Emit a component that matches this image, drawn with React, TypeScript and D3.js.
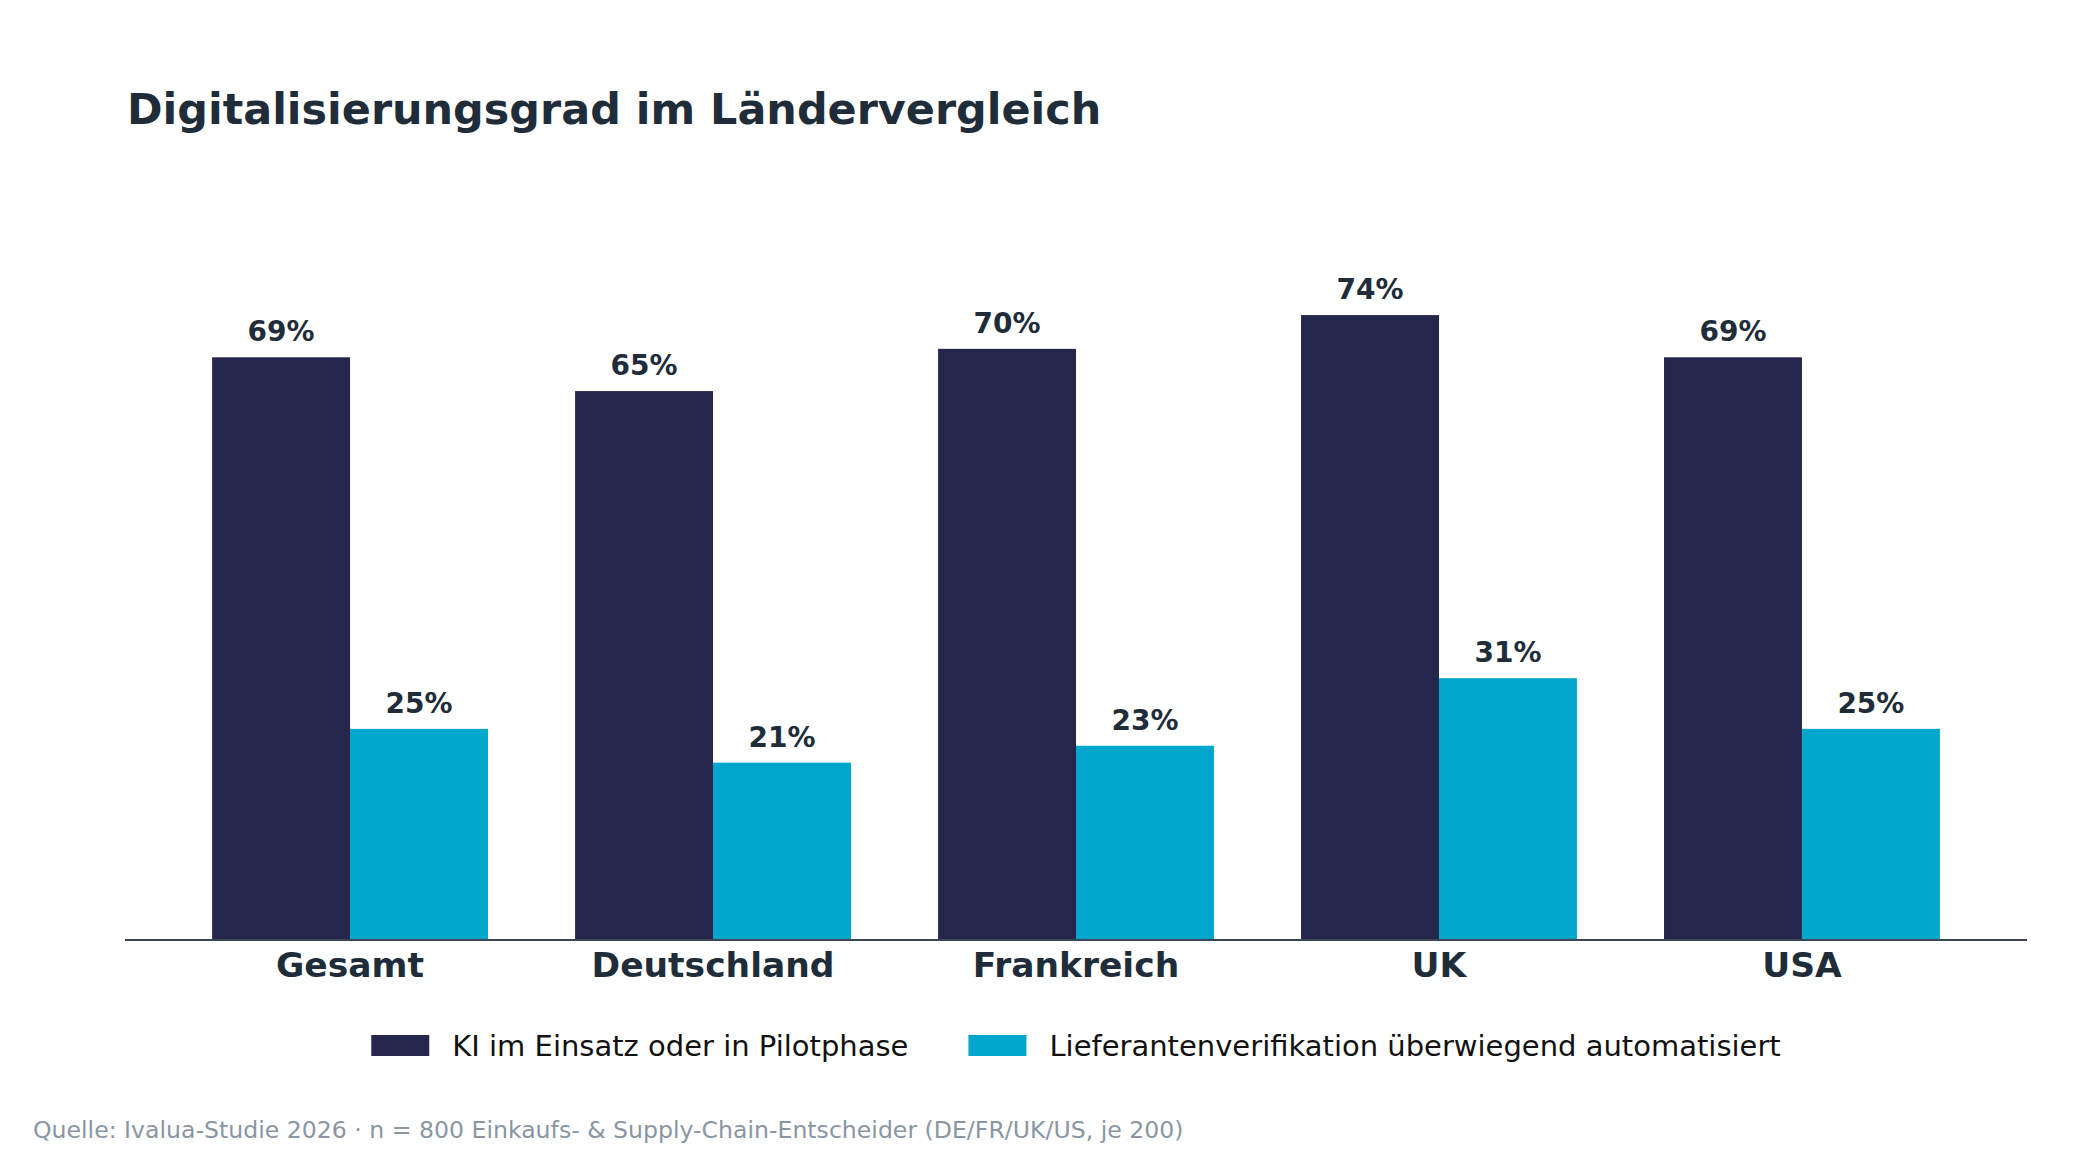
import * as d3 from "d3";
import { useEffect, useRef } from "react";

const categories = ["Gesamt", "Deutschland", "Frankreich", "UK", "USA"];
const kiValues = [69, 65, 70, 74, 69];
const lieferantenValues = [25, 21, 23, 31, 25];
const seriesNames = [
  "KI im Einsatz oder in Pilotphase",
  "Lieferantenverifikation überwiegend automatisiert",
];

const TITLE = "Digitalisierungsgrad im Ländervergleich";
const SOURCE =
  "Quelle: Ivalua-Studie 2026 · n = 800 Einkaufs- & Supply-Chain-Entscheider (DE/FR/UK/US, je 200)";

export default function App({ width = 2100, height = 1160 }) {
  const ref = useRef<SVGSVGElement | null>(null);

  useEffect(() => {
    document.body.style.margin = "0";
    const svg = d3.select(ref.current);
    svg.selectAll("*").remove();
    svg.attr("width", width).attr("height", height);

    const font = "'DejaVu Sans', sans-serif";
    const textColor = "#1f2d3a";
    const colors = ["#24264b", "#00a6cb"];

    svg
      .append("rect")
      .attr("width", width)
      .attr("height", height)
      .attr("fill", "#ffffff");

    // ===== Scales =====
    const left = 125;
    const right = 2027;
    const baseline = 940;
    const barW = 0.38;

    const x = d3.scaleLinear().domain([-0.62, 4.62]).range([left, right]);
    const y = d3
      .scaleLinear()
      .domain([0, 85])
      .range([baseline, baseline - 85 * 8.445]);

    // ===== Title =====
    svg
      .append("text")
      .attr("x", 127)
      .attr("y", 124)
      .attr("font-family", font)
      .attr("font-weight", "bold")
      .attr("font-size", 42.9)
      .attr("fill", textColor)
      .text(TITLE);

    // ===== Bars =====
    const series = [kiValues, lieferantenValues];
    series.forEach((vals, s) => {
      const offset = s === 0 ? -barW : 0;
      const g = svg.append("g");
      g.selectAll("rect")
        .data(vals)
        .enter()
        .append("rect")
        .attr("x", (_, i) => x(i + offset))
        .attr("y", (d) => y(d))
        .attr("width", x(barW) - x(0))
        .attr("height", (d) => baseline - y(d))
        .attr("fill", colors[s]);

      g.selectAll("text")
        .data(vals)
        .enter()
        .append("text")
        .attr("x", (_, i) => x(i + offset + barW / 2))
        .attr("y", (d) => y(d) - 16)
        .attr("text-anchor", "middle")
        .attr("font-family", font)
        .attr("font-weight", "bold")
        .attr("font-size", 28)
        .attr("fill", textColor)
        .text((d) => `${d}%`);
    });

    // ===== Axis =====
    svg
      .append("line")
      .attr("x1", left)
      .attr("x2", right)
      .attr("y1", baseline)
      .attr("y2", baseline)
      .attr("stroke", "#3a4654")
      .attr("stroke-width", 2);

    svg
      .append("g")
      .selectAll("text")
      .data(categories)
      .enter()
      .append("text")
      .attr("x", (_, i) => x(i))
      .attr("y", 977)
      .attr("text-anchor", "middle")
      .attr("font-family", font)
      .attr("font-weight", "bold")
      .attr("font-size", 34.5)
      .attr("fill", textColor)
      .text((d) => d);

    // ===== Legend =====
    const legend = svg.append("g");
    const patchW = 58;
    const patchH = 21;
    const patchGap = 23;
    const itemGap = 60;
    const items = seriesNames.map((name, i) => {
      const item = legend.append("g");
      item
        .append("rect")
        .attr("width", patchW)
        .attr("height", patchH)
        .attr("y", 1035)
        .attr("fill", colors[i]);
      const t = item
        .append("text")
        .attr("x", patchW + patchGap)
        .attr("y", 1056)
        .attr("font-family", font)
        .attr("font-size", 29)
        .attr("fill", "#111111")
        .text(name);
      const w = (t.node() as SVGTextElement).getComputedTextLength();
      return { item, w: patchW + patchGap + w };
    });
    const total = d3.sum(items, (d) => d.w) + itemGap * (items.length - 1);
    let cx = (left + right) / 2 - total / 2;
    items.forEach((d) => {
      d.item.attr("transform", `translate(${cx},0)`);
      cx += d.w + itemGap;
    });

    // ===== Source =====
    svg
      .append("text")
      .attr("x", 33)
      .attr("y", 1138)
      .attr("font-family", font)
      .attr("font-size", 23.6)
      .attr("fill", "#8a96a3")
      .text(SOURCE);
  }, [width, height]);

  return (
    <svg ref={ref} style={{ display: "block" }}>
      <title>Digitalisierungsgrad im Ländervergleich</title>
    </svg>
  );
}
